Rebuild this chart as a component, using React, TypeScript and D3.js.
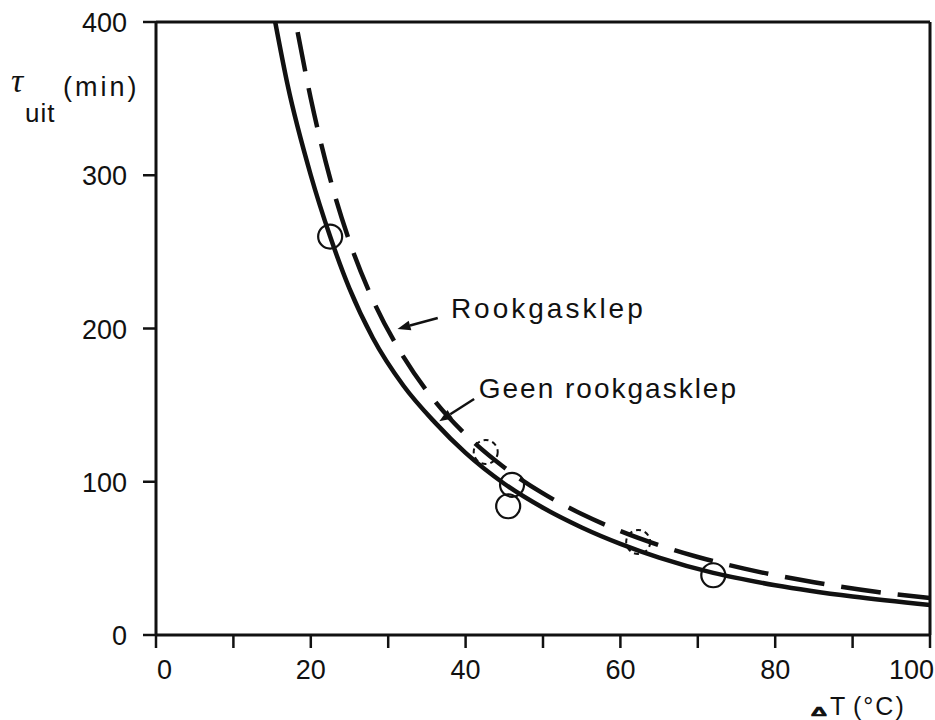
import React from "react";
import * as d3 from "d3";

// Temperature difference ΔT (°C)
const solidT = [15.4, 17, 20, 22.5, 25, 28, 32, 36, 40, 45, 50, 55, 60, 65, 72, 80, 90, 100];
// Uitkoeltijd zonder rookgasklep (min)
const solidV = [400, 359, 300, 260, 226, 194, 162.5, 138.9, 118.8, 98.7, 83, 70.2, 59.5, 50.5, 40.5, 32.5, 25.1, 19.6];

// Uitkoeltijd met rookgasklep
const dashedT = [18.3, 20, 22.5, 25, 28, 32, 36, 40, 45, 50, 55, 60, 65, 70, 76, 85, 93, 100];
const dashedV = [393.4, 350, 297.8, 256.8, 218.9, 181.3, 152.8, 130.8, 109.3, 92.4, 78.9, 67.8, 58.6, 50.9, 43.3, 34.4, 28.2, 24.1];

// Measured points
const measT = [22.5, 46.0, 45.5, 72.0];
const measV = [260, 98, 84, 39];
const measRookT = [42.6, 62.3];
const measRookV = [119.4, 60.7];

const xMajor = [0, 20, 40, 60, 80, 100];
const xMinor = [10, 30, 50, 70, 90];
const yMajor = [0, 100, 200, 300, 400];

const FONT = "'Liberation Sans', Arial, sans-serif";
const INK = "#111";

export default function App() {
  const x = d3.scaleLinear().domain([0, 100]).range([156, 930]);
  const y = d3.scaleLinear().domain([0, 400]).range([635, 22]);

  const line = d3
    .line<[number, number]>()
    .x((d) => x(d[0]))
    .y((d) => y(d[1]))
    .curve(d3.curveMonotoneX);

  const solidPath = line(solidT.map((t, i) => [t, solidV[i]]) as [number, number][]) || "";
  const dashedPath = line(dashedT.map((t, i) => [t, dashedV[i]]) as [number, number][]) || "";

  const arrow = (t0: number, v0: number, t1: number, v1: number, key: string) => {
    const x0 = x(t0), y0 = y(v0), x1 = x(t1), y1 = y(v1);
    const ang = Math.atan2(y1 - y0, x1 - x0);
    const L = 13, W = 5;
    const bx = x1 - L * Math.cos(ang), by = y1 - L * Math.sin(ang);
    const p1 = [bx + W * Math.sin(ang), by - W * Math.cos(ang)];
    const p2 = [bx - W * Math.sin(ang), by + W * Math.cos(ang)];
    return (
      <g key={key}>
        <line x1={x0} y1={y0} x2={bx} y2={by} stroke={INK} strokeWidth={2.5} />
        <polygon points={`${x1},${y1} ${p1[0]},${p1[1]} ${p2[0]},${p2[1]}`} fill={INK} />
      </g>
    );
  };

  return (
    <svg
      width={935}
      height={720}
      style={{ position: "absolute", left: 0, top: 0, background: "#fff" }}
      fontFamily={FONT}
    >
      <rect width={935} height={720} fill="#fff" />
      {/* frame and axes */}
      <g stroke={INK} strokeWidth={3} fill="none">
        <line x1={x(0)} y1={y(400)} x2={x(100)} y2={y(400)} />
        <line x1={x(100)} y1={y(400)} x2={x(100)} y2={y(0)} />
        <line x1={x(0)} y1={y(400)} x2={x(0)} y2={y(0)} />
        <line x1={x(0)} y1={y(0)} x2={x(100)} y2={y(0)} />
        {[...xMajor, ...xMinor].map((t) => (
          <line key={"xt" + t} x1={x(t)} y1={y(0)} x2={x(t)} y2={y(0) + 13} strokeWidth={2.5} />
        ))}
        {yMajor.map((v) => (
          <line key={"yt" + v} x1={x(0) - 13} y1={y(v)} x2={x(0)} y2={y(v)} strokeWidth={2.5} />
        ))}
      </g>
      {/* tick labels */}
      <g fill={INK} fontSize={27}>
        {xMajor.map((t, i) => (
          <text
            key={"xl" + t}
            x={i === 0 ? x(t) + 1 : i === xMajor.length - 1 ? 934 : x(t)}
            y={679}
            textAnchor={i === 0 ? "start" : i === xMajor.length - 1 ? "end" : "middle"}
          >
            {t}
          </text>
        ))}
        {yMajor.map((v) => (
          <text key={"yl" + v} x={127} y={y(v) + 10} textAnchor="end">
            {v}
          </text>
        ))}
      </g>
      {/* axis titles */}
      <g fill={INK}>
        <text x={11} y={92} fontSize={34} fontStyle="italic" fontFamily="'Liberation Serif', serif">
          τ
        </text>
        <text x={25} y={122} fontSize={26} letterSpacing={1}>
          uit
        </text>
        <text x={63} y={96} fontSize={27} letterSpacing={3}>
          (min)
        </text>
        <text
          transform="translate(811,716) scale(1.3,0.7)"
          fontSize={17}
          fontWeight="bold"
          stroke={INK}
          strokeWidth={1}
        >
          Δ
        </text>
        <text y={715} fontSize={25}>
          <tspan x={830}>T</tspan>
          <tspan x={853} letterSpacing={2}>(°C)</tspan>
        </text>
      </g>
      {/* curves */}
      <path d={solidPath} fill="none" stroke={INK} strokeWidth={4.5} />
      <path d={dashedPath} fill="none" stroke={INK} strokeWidth={4.5} strokeDasharray="40 17" />
      {/* measured points */}
      {measT.map((t, i) => (
        <circle key={"m" + i} cx={x(t)} cy={y(measV[i])} r={12} fill="none" stroke={INK} strokeWidth={2.2} />
      ))}
      {measRookT.map((t, i) => (
        <circle
          key={"mr" + i}
          cx={x(t)}
          cy={y(measRookV[i])}
          r={12}
          fill="none"
          stroke={INK}
          strokeWidth={2}
          strokeDasharray="5 4"
        />
      ))}
      {/* curve labels */}
      <g fill={INK} fontSize={28}>
        <text x={x(38.1)} y={y(206.9)} letterSpacing={3}>
          Rookgasklep
        </text>
        <text x={x(41.7)} y={y(154.6)} letterSpacing={2}>
          Geen rookgasklep
        </text>
      </g>
      {arrow(36.4, 206.9, 31.2, 199.7, "a1")}
      {arrow(41.1, 154, 36.6, 139.5, "a2")}
    </svg>
  );
}
